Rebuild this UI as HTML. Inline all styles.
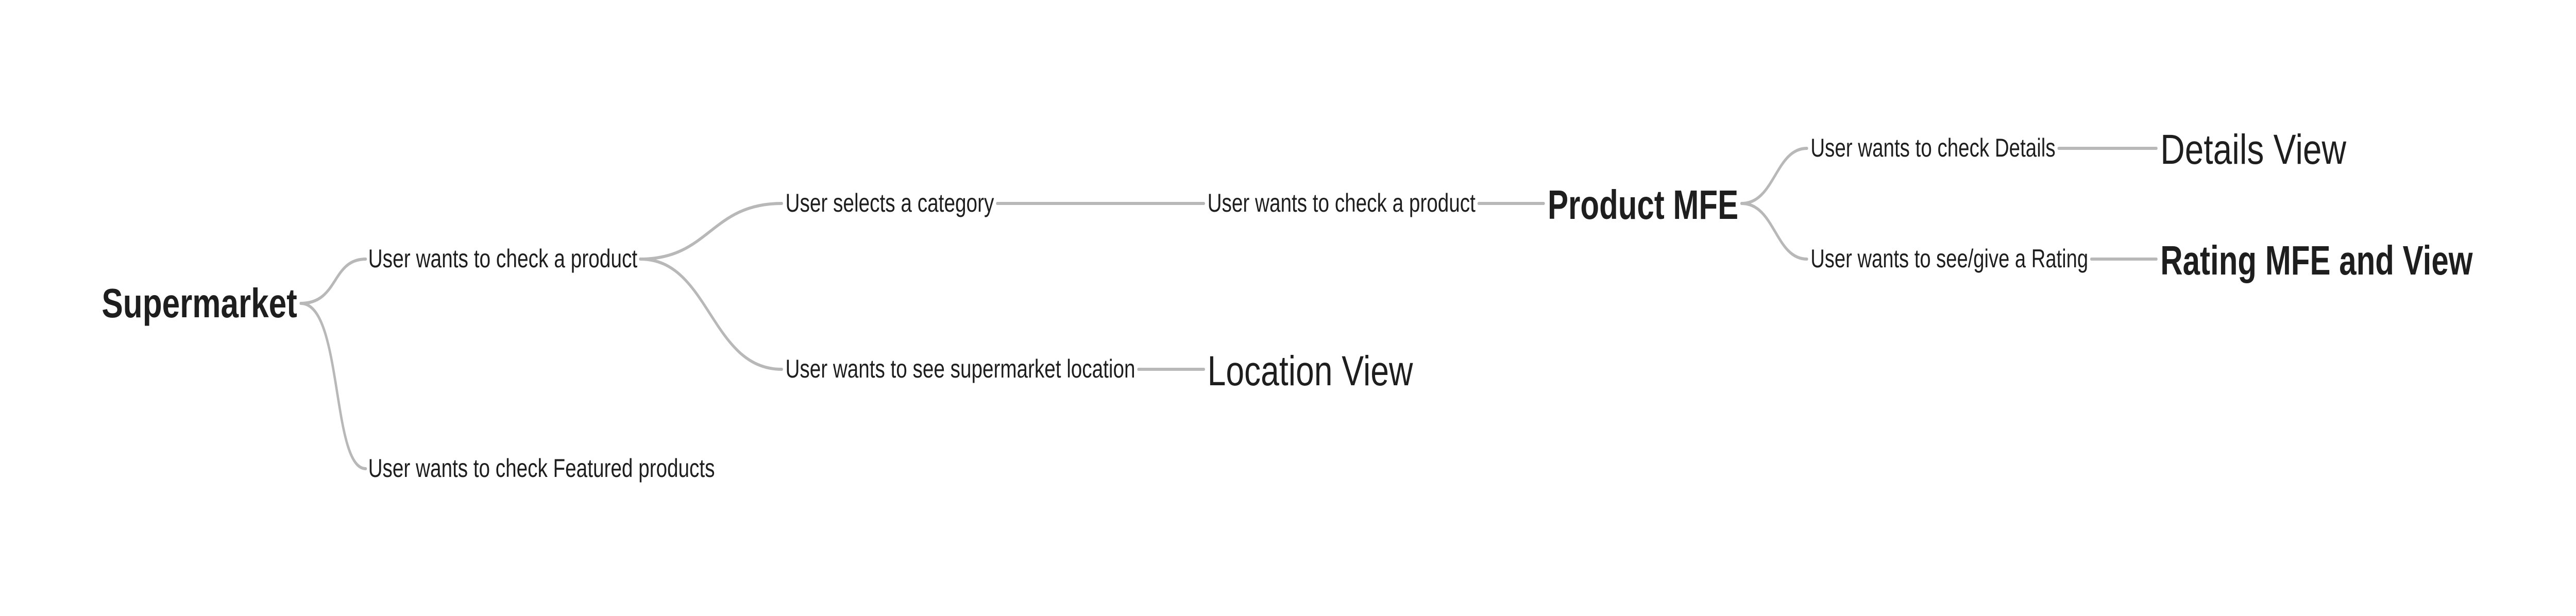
<!DOCTYPE html>
<html><head><meta charset="utf-8"><style>html,body{margin:0;padding:0;background:#fff;overflow:hidden;width:100%;height:100%}svg{display:block;width:100vw;height:100vh}</style></head>
<body>
<svg viewBox="0 0 6458 1196" preserveAspectRatio="none" xmlns="http://www.w3.org/2000/svg">
<rect width="6458" height="1196" fill="#fff"/>
<g fill="none" stroke="#b8b8b8" stroke-width="6" stroke-linecap="round">
<path d="M754 589 C850 589 830 503 917 503"/>
<path d="M754 589 C860 589 830 910 917 910"/>
<path d="M1605 503 C1780 503 1780 395 1960 395"/>
<path d="M1605 503 C1780 503 1780 717 1960 717"/>
<path d="M2500 395 L3018 395"/>
<path d="M2854 717 L3018 717"/>
<path d="M3707 395 L3870 395"/>
<path d="M4366 395 C4450 395 4450 288 4530 288"/>
<path d="M4366 395 C4450 395 4450 503 4530 503"/>
<path d="M5161 288 L5406 288"/>
<path d="M5243 503 L5406 503"/>
</g>
<g font-family="Liberation Sans, sans-serif" fill="#1e1e1e" dominant-baseline="central">
<text x="255" y="589" font-size="80" font-weight="bold" textLength="490" lengthAdjust="spacingAndGlyphs">Supermarket</text>
<text x="923" y="503" font-size="50" textLength="675" lengthAdjust="spacingAndGlyphs">User wants to check a product</text>
<text x="923" y="910" font-size="50" textLength="869" lengthAdjust="spacingAndGlyphs">User wants to check Featured products</text>
<text x="1969" y="395" font-size="50" textLength="523" lengthAdjust="spacingAndGlyphs">User selects a category</text>
<text x="1969" y="717" font-size="50" textLength="877" lengthAdjust="spacingAndGlyphs">User wants to see supermarket location</text>
<text x="3027" y="395" font-size="50" textLength="672" lengthAdjust="spacingAndGlyphs">User wants to check a product</text>
<text x="3027" y="720" font-size="82" textLength="515" lengthAdjust="spacingAndGlyphs">Location View</text>
<text x="3880" y="398" font-size="80" font-weight="bold" textLength="478" lengthAdjust="spacingAndGlyphs">Product MFE</text>
<text x="4539" y="288" font-size="50" textLength="614" lengthAdjust="spacingAndGlyphs">User wants to check Details</text>
<text x="4539" y="503" font-size="50" textLength="696" lengthAdjust="spacingAndGlyphs">User wants to see/give a Rating</text>
<text x="5416" y="290" font-size="82" textLength="466" lengthAdjust="spacingAndGlyphs">Details View</text>
<text x="5416" y="506" font-size="80" font-weight="bold" textLength="783" lengthAdjust="spacingAndGlyphs">Rating MFE and View</text>
</g>
</svg>
</body></html>
